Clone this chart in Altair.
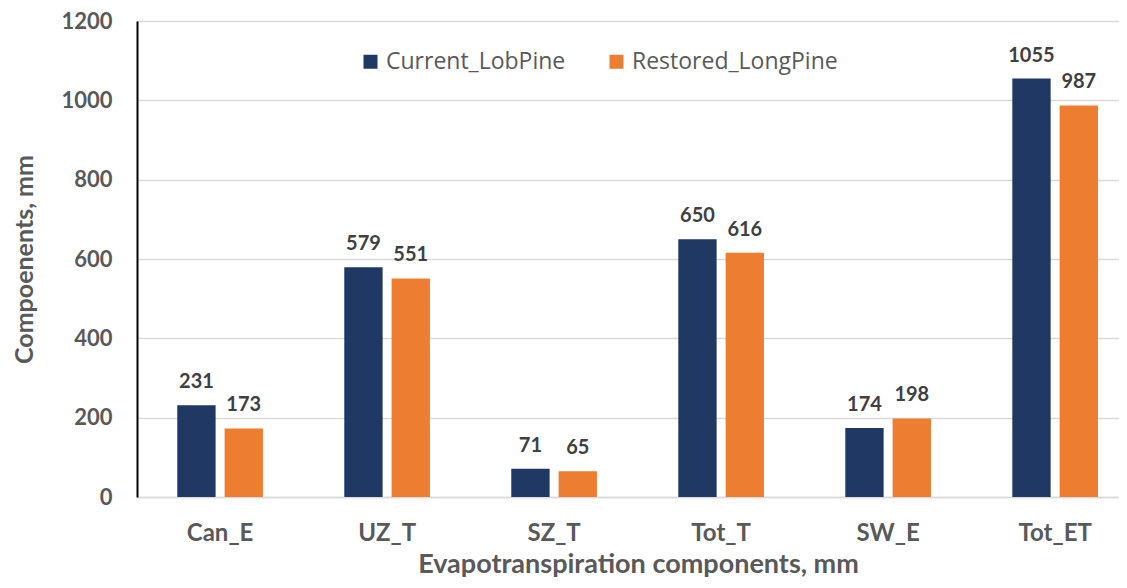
import altair as alt
import pandas as pd

categories = ["Can_E", "UZ_T", "SZ_T", "Tot_T", "SW_E", "Tot_ET"]
current_lobpine = [231, 579, 71, 650, 174, 1055]
restored_longpine = [173, 551, 65, 616, 198, 987]
series = ["Current_LobPine", "Restored_LongPine"]
colors = ["#203864", "#ED7D31"]
y_ticks = [0, 200, 400, 600, 800, 1000, 1200]

rows = []
for c, a, b in zip(categories, current_lobpine, restored_longpine):
    rows.append({"cat": c, "series": series[0], "value": a})
    rows.append({"cat": c, "series": series[1], "value": b})
df = pd.DataFrame(rows)

W, H = 982, 476
FONT = "Lato"
GRAY = "#595959"

xscale = alt.Scale(domain=categories, paddingInner=0.487, paddingOuter=0.1835,
                   align=0.657, round=False)
oscale = alt.Scale(domain=series, paddingInner=0.19, paddingOuter=0, round=False)

base = alt.Chart(df).encode(
    x=alt.X("cat:N", sort=categories, scale=xscale,
            title="Evapotranspiration components, mm",
            axis=alt.Axis(labelAngle=0, ticks=False, domainColor="#D9D9D9", domainWidth=1.5,
                          labelPadding=24, labelFont=FONT, labelFontSize=24,
                          labelFontWeight="bold", labelColor=GRAY,
                          titleFont=FONT, titleFontSize=27, titleFontWeight="bold",
                          titleColor=GRAY, titlePadding=6, titleX=501, titleAlign="center",
                          grid=False)),
    xOffset=alt.XOffset("series:N", sort=series, scale=oscale),
)

bars = base.mark_bar().encode(
    y=alt.Y("value:Q", scale=alt.Scale(domain=[0, 1200], nice=False),
            title="Compoenents, mm",
            axis=alt.Axis(values=y_ticks, format="d", ticks=False,
                          domainColor="#000000", domainWidth=2,
                          labelPadding=25, labelFont=FONT, labelFontSize=22,
                          labelFontWeight="bold", labelColor=GRAY,
                          grid=True, gridColor="#D9D9D9", gridWidth=1.5,
                          titleFont=FONT, titleFontSize=25, titleFontWeight="bold",
                          titleColor=GRAY, titlePadding=23)),
    color=alt.Color("series:N", sort=series,
                    scale=alt.Scale(domain=series, range=colors),
                    legend=alt.Legend(orient="none", legendX=222, legendY=29,
                                      direction="horizontal", title=None,
                                      symbolType="square", symbolSize=196,
                                      symbolStrokeWidth=0, labelFont="Open Sans",
                                      labelFontSize=23, labelColor=GRAY, labelLimit=0,
                                      labelOffset=4, columnPadding=39, padding=0)),
)

labels = base.mark_text(font=FONT, fontSize=20, fontWeight="bold", color="#404040",
                        baseline="alphabetic", dy=-17).encode(
    y=alt.Y("value:Q"),
    text=alt.Text("value:Q"),
)

chart = alt.layer(bars, labels).properties(
    width=W, height=H,
    autosize=alt.AutoSizeParams(type="none"),
    padding={"left": 129, "top": 13, "right": 0, "bottom": 83},
).configure_view(stroke=None)

chart.save("out.html", embed_options={"renderer": "svg", "actions": False})
